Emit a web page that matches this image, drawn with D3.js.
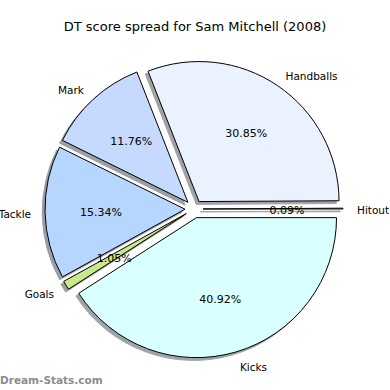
<!DOCTYPE html>
<html>
<head>
<meta charset="utf-8">
<script src="https://cdn.jsdelivr.net/npm/d3@7"></script>
<style>body { margin: 0; background: #fff; }</style>
</head>
<body>
<script>
// slices, counterclockwise from 3 o'clock
const labels = ['Hitout', 'Handballs', 'Mark', 'Tackle', 'Goals', 'Kicks'];
const shares = [0.09, 30.85, 11.76, 15.34, 1.05, 40.92];
const colors = ['#f4f8ff', '#eaf1ff', '#c6d9ff', '#b7d6ff', '#c9e78b', '#d9ffff'];
const title = 'DT score spread for Sam Mitchell (2008)';

const width = 390, height = 390;
const cx = 194, cy = 209, radius = 140;
const explode = 9;

let svg = d3.select('body').append('svg')
    .attr('width', width)
    .attr('height', height)
    .style('font-family', 'DejaVu Sans, sans-serif');

// d3 angles run clockwise from 12 o'clock, so go backwards from pi/2
let pie = d3.pie()
    .sort(null)
    .value(d => d)
    .startAngle(Math.PI / 2)
    .endAngle(Math.PI / 2 - 2 * Math.PI);

let arcs = pie(shares);
let arc = d3.arc().innerRadius(0).outerRadius(radius);

function mid(d) {
    let a = (d.startAngle + d.endAngle) / 2;
    return [Math.sin(a), -Math.cos(a)];
}

function dark(c) {
    c = d3.rgb(c);
    return d3.rgb(c.r * 0.3, c.g * 0.3, c.b * 0.3);
}

let g = svg.append('g').attr('transform', `translate(${cx},${cy})`);

// shadows under everything
g.selectAll('path.shadow')
    .data(arcs)
  .enter().append('path')
    .attr('class', 'shadow')
    .attr('d', arc)
    .attr('transform', d => {
        let [ux, uy] = mid(d);
        return `translate(${ux * explode - 2.8},${uy * explode + 2.8})`;
    })
    .attr('fill', (d, i) => dark(colors[i]))
    .attr('stroke', (d, i) => dark(colors[i]))
    .attr('stroke-width', 1)
    .attr('opacity', 0.5);

g.selectAll('path.wedge')
    .data(arcs)
  .enter().append('path')
    .attr('class', 'wedge')
    .attr('d', arc)
    .attr('transform', d => {
        let [ux, uy] = mid(d);
        return `translate(${ux * explode},${uy * explode})`;
    })
    .attr('fill', (d, i) => colors[i])
    .attr('stroke', '#000')
    .attr('stroke-width', 1);

// category labels at 1.1 r
g.selectAll('text.label')
    .data(arcs)
  .enter().append('text')
    .attr('class', 'label')
    .attr('x', d => mid(d)[0] * (explode + 1.1 * radius))
    .attr('y', d => mid(d)[1] * (explode + 1.1 * radius) + 1.5)
    .attr('text-anchor', d => mid(d)[0] > 0 ? 'start' : 'end')
    .attr('dominant-baseline', 'central')
    .attr('font-size', 10.5)
    .attr('fill', '#000')
    .text((d, i) => labels[i]);

// percentages at 0.6 r
g.selectAll('text.pct')
    .data(arcs)
  .enter().append('text')
    .attr('class', 'pct')
    .attr('x', d => mid(d)[0] * (explode + 0.6 * radius))
    .attr('y', d => mid(d)[1] * (explode + 0.6 * radius) + 1.5)
    .attr('text-anchor', 'middle')
    .attr('dominant-baseline', 'central')
    .attr('font-size', 11)
    .attr('fill', '#000')
    .text(d => d.value.toFixed(2) + '%');

svg.append('text')
    .attr('x', 195)
    .attr('y', 26)
    .attr('text-anchor', 'middle')
    .attr('dominant-baseline', 'central')
    .attr('font-size', 13)
    .attr('fill', '#000')
    .text(title);

svg.append('text')
    .attr('x', 0)
    .attr('y', 380)
    .attr('dominant-baseline', 'central')
    .attr('font-size', 10.5)
    .attr('font-weight', 'bold')
    .attr('fill', '#8c8c8c')
    .text('Dream-Stats.com');
</script>
</body>
</html>
